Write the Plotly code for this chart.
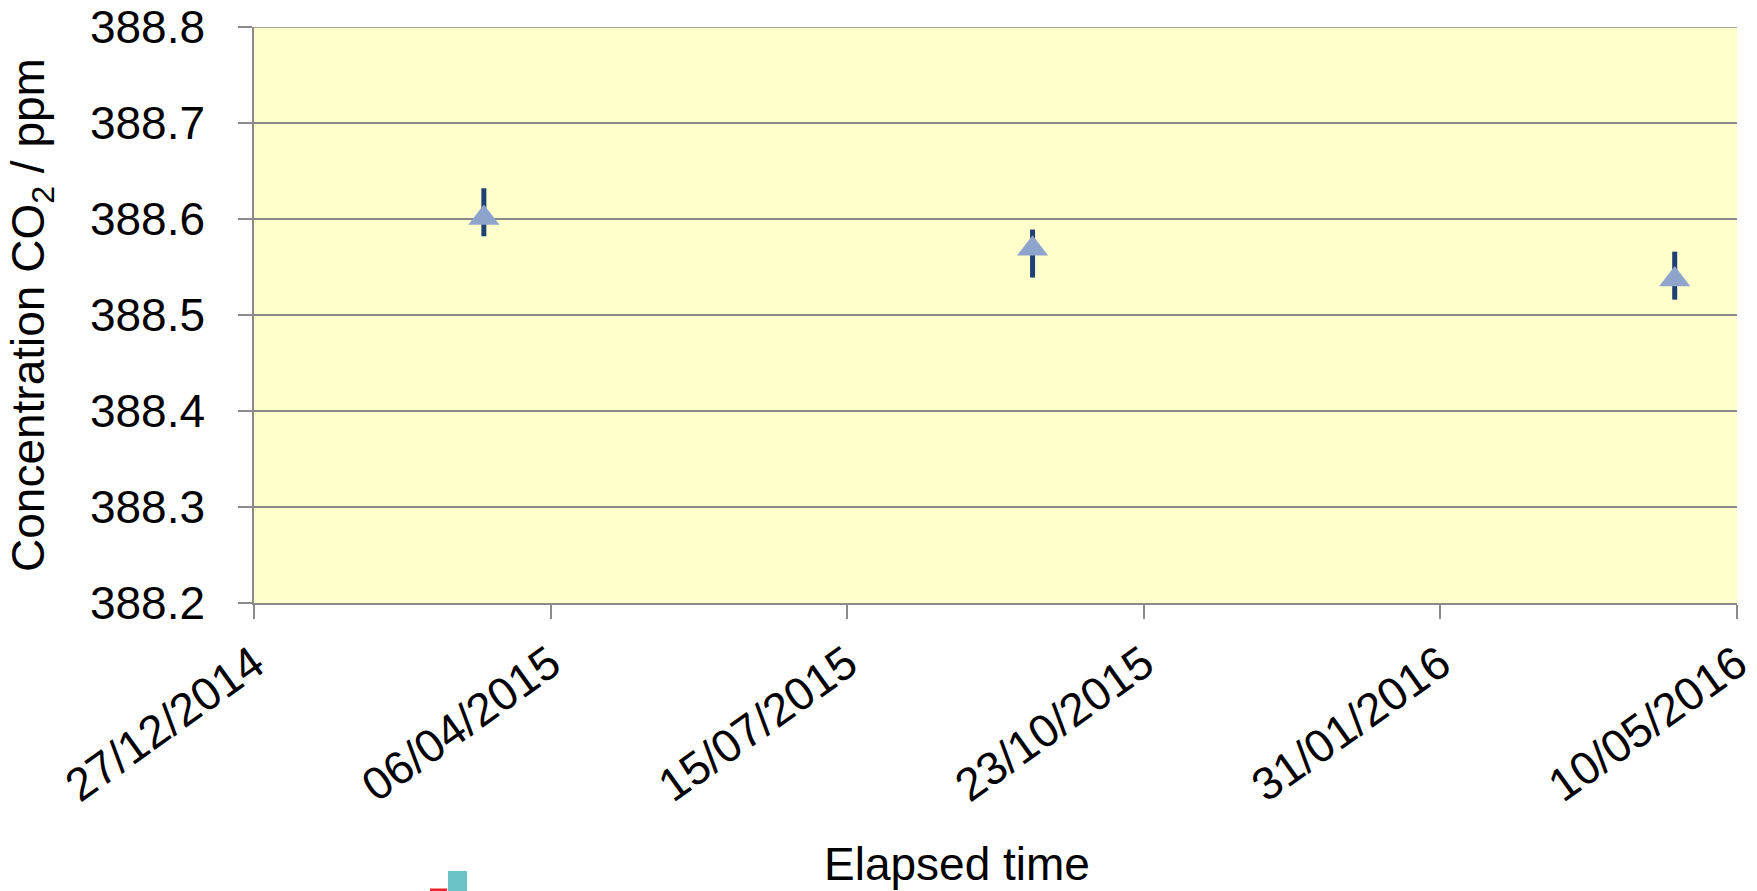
import plotly.graph_objects as go

# ---- data ----
dates = ["2015-03-14 12:00", "2015-09-15 12:00", "2016-04-19"]
co2_ppm = [388.601, 388.569, 388.537]
err_plus = [0.031, 0.020, 0.029]
err_minus = [0.019, 0.030, 0.021]

x_tick_vals = ["2014-12-27", "2015-04-06", "2015-07-15", "2015-10-23", "2016-01-31", "2016-05-10"]
x_tick_text = ["27/12/2014", "06/04/2015", "15/07/2015", "23/10/2015", "31/01/2016", "10/05/2016"]
y_tick_vals = [388.2, 388.3, 388.4, 388.5, 388.6, 388.7, 388.8]

FONT = "Liberation Sans, Arial, sans-serif"
FS = 46
GRID = "#8a8a8a"

# page is offset by the 8px body margin
OFF = 8
PL, PR, PT, PB = 254 - OFF, 1737 - OFF, 27 - OFF, 603 - OFF
W, H = 1757 - OFF, 891 - OFF
PW, PH = PR - PL, PB - PT


def px(xp):
    return (xp - OFF - PL) / PW


def py(yp):
    return (PB - (yp - OFF)) / PH


fig = go.Figure()
fig.add_trace(go.Scatter(
    x=dates, y=co2_ppm, mode="markers",
    marker=dict(symbol="triangle-up", size=27, color="#8ea4cc",
                line=dict(width=0)),
    error_y=dict(type="data", symmetric=False, array=err_plus, arrayminus=err_minus,
                 color="#1f3f75", thickness=5, width=0),
    showlegend=False,
))

fig.update_layout(
    width=W, height=H,
    margin=dict(l=PL, r=W - PR, t=PT, b=H - PB, autoexpand=False),
    paper_bgcolor="white", plot_bgcolor="#FFFFCC",
    font=dict(family=FONT, size=FS, color="black"),
    xaxis=dict(
        type="date", range=["2014-12-27", "2016-05-10"],
        tickmode="array", tickvals=x_tick_vals, ticktext=x_tick_text,
        tickangle=-35.5, ticks="outside", ticklen=14, tickwidth=1.5, tickcolor=GRID,
        showline=True, linecolor=GRID, linewidth=1.5,
        showgrid=False, zeroline=False, ticklabeloverflow="allow",
        tickfont=dict(family=FONT, size=FS, color="black"),
    ),
    yaxis=dict(
        range=[388.2, 388.8], tickmode="array", tickvals=y_tick_vals,
        tickformat=".1f",
        ticks="outside", ticklen=14, tickwidth=1.5, tickcolor=GRID,
        ticklabelstandoff=24, ticklabeloverflow="allow",
        showline=True, linecolor=GRID, linewidth=1.5,
        showgrid=True, gridcolor=GRID, gridwidth=1.5, zeroline=False,
        tickfont=dict(family=FONT, size=FS, color="black"),
    ),
)

# gridline at the top tick (plotly omits it on the plot edge)
fig.add_shape(type="line", xref="paper", yref="y",
              x0=0, x1=1, y0=y_tick_vals[-1], y1=y_tick_vals[-1],
              line=dict(color=GRID, width=1.5), layer="below")

fig.add_annotation(
    text="Concentration CO<sub>2</sub> / ppm", xref="paper", yref="paper",
    x=px(31), y=py(315), textangle=-90,
    xanchor="center", yanchor="middle", showarrow=False,
    font=dict(family=FONT, size=FS, color="black"),
)
fig.add_annotation(
    text="Elapsed time", xref="paper", yref="paper",
    x=px(957), y=py(864),
    xanchor="center", yanchor="middle", showarrow=False,
    font=dict(family=FONT, size=FS, color="black"),
)

# small stray glyphs at the bottom edge of the original image
fig.add_shape(type="rect", xref="paper", yref="paper",
              x0=px(448), x1=px(467), y0=py(891), y1=py(871),
              fillcolor="#6cc3c6", line=dict(width=0))
fig.add_shape(type="line", xref="paper", yref="paper",
              x0=px(430), x1=px(447), y0=py(890), y1=py(890),
              line=dict(color="#e8252a", width=3))

fig.write_html("out.html")
